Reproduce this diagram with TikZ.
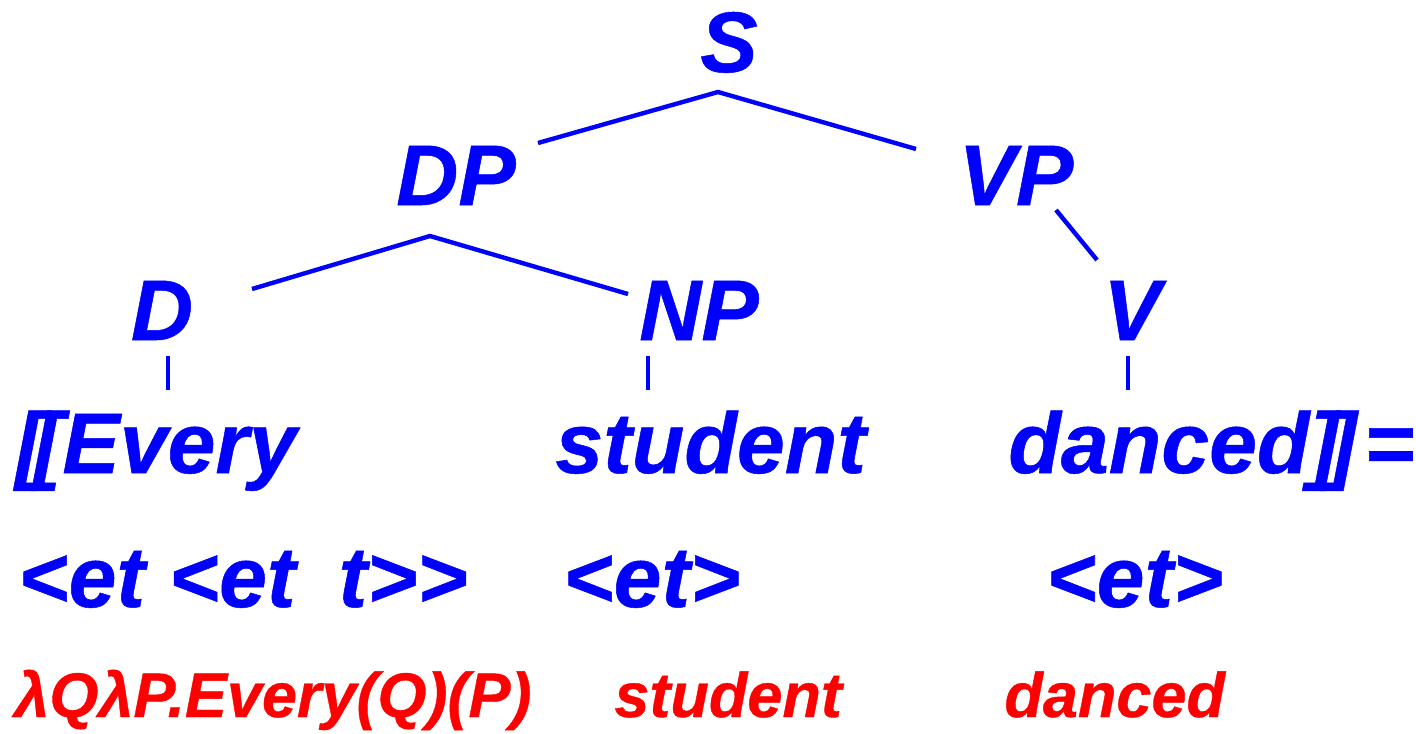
\documentclass[tikz,border=0pt]{standalone}
\usepackage{fontspec}
\setmainfont{Liberation Sans}[BoldItalicFeatures={FakeBold=0.6}]
\begin{document}
\begin{tikzpicture}[x=0.5pt,y=-0.5pt,
  lab/.style={text=blue, font=\fontsize{43}{50}\selectfont\bfseries\itshape, inner sep=0pt},
  sem/.style={text=red, font=\fontsize{31.5}{36}\selectfont\bfseries\itshape, inner sep=0pt},
  branch/.style={draw=blue, line width=2.2pt, line join=round}]
\useasboundingbox (0,0) rectangle (1416,733);
% tree labels
\node[lab,anchor=base] (S) at (729,72) {S};
\node[lab,anchor=base] (DP) at (456,205) {DP};
\node[lab,anchor=base] (VP) at (1016,205) {VP};
\node[lab,anchor=base] (D) at (162,340) {D};
\node[lab,anchor=base] (NP) at (699,340) {NP};
\node[lab,anchor=base] (V) at (1132,340) {V};
% words
\node[lab,anchor=base west] (every) at (15,473) {[\kern-.12em[Every};
\node[lab,anchor=base west] (student) at (555,473) {student};
\node[lab,anchor=base west] (danced) at (1008,473) {danced]\kern-.12em]\kern.09em=};
% types
\node[lab,anchor=base west] (t1) at (18,607) {<et <et\hspace{.5em}t>{}>};
\node[lab,anchor=base west] (t2) at (563,607) {<et>};
\node[lab,anchor=base west] (t3) at (1046,607) {<et>};
% semantics
\node[sem,anchor=base west] (m1) at (14,717) {λQλP.Every(Q)(P)};
\node[sem,anchor=base west] (m2) at (614,717) {student};
\node[sem,anchor=base west] (m3) at (1004,717) {danced};
% branch points
\coordinate (sPeak) at (718,92);
\coordinate (sL) at (538,143);
\coordinate (sR) at (916,149);
\coordinate (dpPeak) at (430,236);
\coordinate (dpL) at (252,289);
\coordinate (dpR) at (628,294);
\coordinate (vpA) at (1056,210);
\coordinate (vpB) at (1097,260);
\coordinate (dA) at (168,356);
\coordinate (dB) at (168,390);
\coordinate (npA) at (648,356);
\coordinate (npB) at (648,390);
\coordinate (vA) at (1128,356);
\coordinate (vB) at (1128,390);
\draw[branch] (sL) -- (sPeak) -- (sR);
\draw[branch] (dpL) -- (dpPeak) -- (dpR);
\draw[branch] (vpA) -- (vpB);
\draw[branch] (dA) -- (dB);
\draw[branch] (npA) -- (npB);
\draw[branch] (vA) -- (vB);
\end{tikzpicture}
\end{document}
